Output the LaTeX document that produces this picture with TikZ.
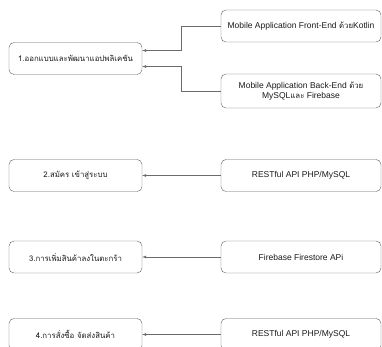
\documentclass[tikz,border=0pt]{standalone}
\usepackage{fontspec}
\setmainfont{Liberation Sans}
\newfontfamily\thai[Script=Thai,Scale=0.92]{Loma}
\definecolor{boxline}{HTML}{5F5F5F}
\definecolor{arrline}{HTML}{6A6A6A}
\definecolor{txt}{HTML}{1A1A1A}
\tikzset{
  task/.style={draw=boxline,rounded corners=5pt,minimum width=133pt,minimum height=32pt,
    inner sep=2pt,font=\fontsize{8.5}{10}\selectfont,text=txt,align=center},
  tool/.style={task,minimum width=160pt},
  feed/.style={draw=arrline,-latex}
}
\begin{document}
\begin{tikzpicture}[x=1pt,y=-1pt]
		\useasboundingbox (0,0) rectangle (382,346);
		%first
		\node[task] (plan) at (75.5,58.5) {\thai 1.ออกแบบและพัฒนาแอปพลิเคชัน};
		\node[tool] (front) at (301,26) {Mobile Application Front-End {\thai ด้วย}Kotlin};
		\node[tool,minimum height=34pt] (back) at (301,91) {Mobile Application Back-End {\thai ด้วย}\\MySQL{\thai และ} Firebase};
		\draw[feed] (front.west) -- ++(-40,0) |- ([yshift=8pt]plan.east);
		\draw[feed] (back.west) -- ++(-40,0) |- ([yshift=-8pt]plan.east);
		%second
		\node[task] (login) at (75.5,175.5) {\thai 2.สมัคร เข้าสู่ระบบ};
		\node[tool] (rest) at (301,175.5) {RESTful API PHP/MySQL};
		\draw[feed] (rest) -- (login);
		%third
		\node[task] (cart) at (75.5,257) {\thai 3.การเพิ่มสินค้าลงในตะกร้า};
		\node[tool] (store) at (301,257) {Firebase Firestore APi};
		\draw[feed] (store) -- (cart);
		%fourth
		\node[task] (order) at (75.5,334.5) {\thai 4.การสั่งซื้อ จัดส่งสินค้า};
		\node[tool] (restb) at (301,334.5) {RESTful API PHP/MySQL};
		\draw[feed] (restb) -- (order);
	\end{tikzpicture}
\end{document}
